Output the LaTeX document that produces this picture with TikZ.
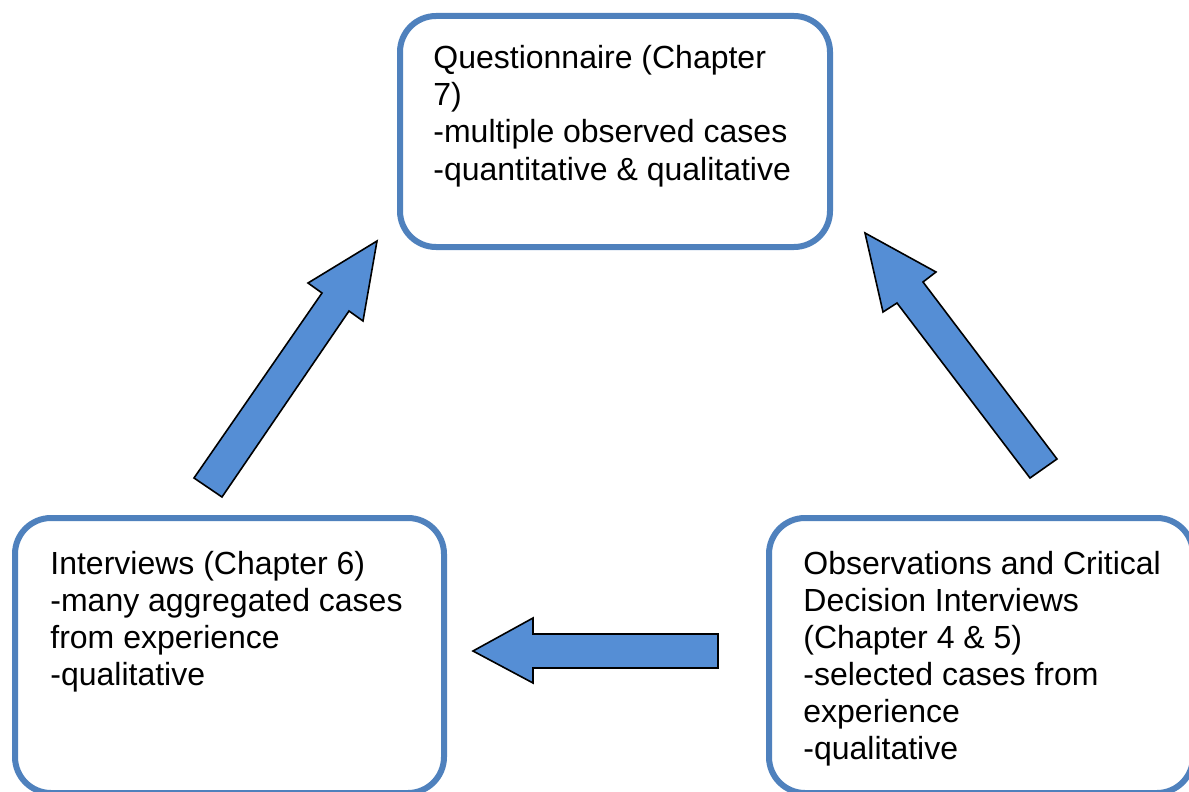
\documentclass[tikz,border=0pt]{standalone}
\usepackage{fontspec}
\setmainfont{Liberation Sans}
\definecolor{boxblue}{HTML}{4F81BD}
\definecolor{arrowblue}{HTML}{558ED5}
\begin{document}
\begin{tikzpicture}[x=0.5pt,y=-0.5pt,
  stagebox/.style={draw=boxblue,line width=3pt,rounded corners=18pt,fill=white,
    inner sep=0pt,outer sep=0pt},
  stagetext/.style={anchor=base west,align=left,inner sep=0pt,
    font=\fontsize{16}{18.5}\selectfont},
  blockarrow/.style={fill=arrowblue,draw=black,line width=0.8pt,line join=miter}]
\useasboundingbox (0,0) rectangle (1189,792);
\clip (0,0) rectangle (1189,792);

% stage boxes
\node[stagebox,minimum width=215pt,minimum height=115.5pt] (quest) at (615,131.5) {};
\node[stagebox,minimum width=214.5pt,minimum height=137.5pt] (interv) at (229.5,655.5) {};
\node[stagebox,minimum width=212pt,minimum height=137.5pt] (observ) at (981,655.5) {};

% box texts (anchored at the baseline of their last line)
\node[stagetext] (questtxt) at (433,180) {Questionnaire (Chapter\\7)\\-multiple observed cases\\-quantitative \& qualitative};
\node[stagetext] (intervtxt) at (50,685) {Interviews (Chapter 6)\\-many aggregated cases\\from experience\\-qualitative};
\node[stagetext] (observtxt) at (803,759) {Observations and Critical\\Decision Interviews\\(Chapter 4 \& 5)\\-selected cases from\\experience\\-qualitative};

% block arrows between the stages
\draw[blockarrow] (194,478) -- (322,293) -- (308,283) -- (377,241) -- (363,321) -- (349,311) -- (222,497) -- cycle;
\draw[blockarrow] (1057,459) -- (923,282) -- (936,272) -- (865,233) -- (883,312) -- (897,303) -- (1030,478) -- cycle;
\draw[blockarrow] (718,634) -- (533,634) -- (533,618) -- (473,651) -- (533,683) -- (533,668) -- (718,668) -- cycle;
\end{tikzpicture}
\end{document}
